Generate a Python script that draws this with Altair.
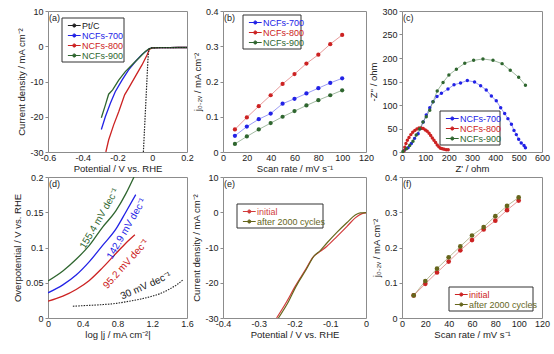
import altair as alt
import pandas as pd

# ---------------- data ----------------
# (a) LSV polarisation curves
a_x_ptc = [-0.051, -0.049, -0.047, -0.045, -0.043, -0.041, -0.039, -0.037, -0.035, -0.033,
           -0.031, -0.029, -0.027, -0.025, -0.022, -0.018, -0.01, 0.0, 0.05, 0.1, 0.15, 0.2]
a_y_ptc = [-30, -28, -26, -24, -22, -20, -18, -16, -14, -12,
           -10, -8, -6, -4, -1.8, -0.8, -0.5, -0.45, -0.4, -0.4, -0.35, -0.35]
a_x_700 = [-0.293, -0.270, -0.241, -0.213, -0.174, -0.136, -0.098, -0.059, -0.017, 0.0, 0.05, 0.1, 0.15, 0.2]
a_y_700 = [-23.6, -20.0, -16.2, -12.9, -9.6, -6.7, -4.4, -2.3, -0.7, -0.45, -0.4, -0.4, -0.35, -0.35]
a_x_800 = [-0.267, -0.251, -0.222, -0.193, -0.159, -0.136, -0.098, -0.059, -0.030, -0.017, 0.0, 0.05, 0.1, 0.15, 0.2]
a_y_800 = [-30.0, -26.6, -22.3, -18.6, -13.8, -11.9, -8.6, -5.3, -2.5, -0.9, -0.45, -0.4, -0.4, -0.35, -0.35]
a_x_900 = [-0.293, -0.270, -0.251, -0.228, -0.193, -0.155, -0.117, -0.078, -0.040, -0.017, 0.0, 0.05, 0.1, 0.15, 0.2]
a_y_900 = [-20.3, -16.7, -13.6, -12.4, -9.6, -7.2, -5.3, -3.4, -1.5, -0.7, -0.45, -0.4, -0.4, -0.35, -0.35]

# (b) and (f) capacitive current vs scan rate
scan = [10, 20, 30, 40, 50, 60, 70, 80, 90, 100]
b_700 = [0.046, 0.072, 0.093, 0.109, 0.137, 0.151, 0.166, 0.181, 0.196, 0.209]
b_800 = [0.064, 0.098, 0.130, 0.161, 0.193, 0.221, 0.251, 0.276, 0.306, 0.332]
b_900 = [0.023, 0.044, 0.064, 0.082, 0.100, 0.116, 0.132, 0.147, 0.161, 0.175]
f_init = [0.064, 0.097, 0.129, 0.160, 0.192, 0.221, 0.251, 0.276, 0.306, 0.333]
f_after = [0.064, 0.105, 0.140, 0.172, 0.203, 0.234, 0.258, 0.289, 0.318, 0.342]

# (c) Nyquist plots
c_x_700 = [11, 26, 40, 54, 69, 80, 91, 104, 119, 133, 150, 169, 197, 223, 251, 280, 311, 337,
           361, 383, 404, 423, 440, 454, 469, 480, 490, 500, 511, 523, 529]
c_y_700 = [4, 9, 18, 29, 39, 50, 64, 79, 94, 107, 118, 125, 134, 143, 147, 152, 149, 141,
           132, 119, 109, 94, 82, 71, 59, 46, 37, 27, 19, 14, 9]
c_x_800 = [8, 12, 17, 23, 30, 38, 46, 55, 64, 73, 82, 91, 100, 108, 116, 123, 130, 137, 144,
           151, 158, 165, 173, 181, 190, 198]
c_y_800 = [2, 10, 18, 25, 31, 37, 42, 46, 49, 51, 51, 50, 47, 44, 40, 35, 30, 25, 20,
           15, 11, 8, 7, 6, 5, 5]
c_x_900 = [4, 19, 33, 47, 61, 76, 90, 104, 119, 133, 151, 176, 201, 233, 269, 307, 347, 390,
           429, 464, 500, 529]
c_y_900 = [1, 7, 14, 23, 36, 49, 64, 75, 89, 107, 130, 148, 164, 176, 189, 195, 198, 195,
           188, 174, 159, 142]

# (d) Tafel plots
d_x_ptc = [0.286, 0.45, 0.629, 0.8, 0.933, 1.07, 1.2, 1.3, 1.39, 1.48, 1.56]
d_y_ptc = [0.0167, 0.0178, 0.019, 0.021, 0.0238, 0.027, 0.031, 0.035, 0.0405, 0.047, 0.0548]
d_x_700 = [0, 0.171, 0.324, 0.476, 0.629, 0.781, 0.895, 1.01]
d_y_700 = [0.0357, 0.047, 0.061, 0.080, 0.103, 0.126, 0.150, 0.175]
d_x_800 = [0, 0.171, 0.324, 0.476, 0.629, 0.781, 0.895, 1.0]
d_y_800 = [0.0238, 0.031, 0.0405, 0.0533, 0.0714, 0.0914, 0.106, 0.118]
d_x_900 = [0, 0.171, 0.324, 0.476, 0.629, 0.781, 0.895, 0.99]
d_y_900 = [0.0525, 0.0667, 0.0833, 0.103, 0.129, 0.152, 0.176, 0.2]
d_labels = ["155.4 mV dec⁻¹", "142.9 mV dec⁻¹", "95.2 mV dec⁻¹", "30 mV dec⁻¹"]
d_lab_x = [0.592, 0.903, 0.896, 1.125]
d_lab_y = [0.141, 0.1267, 0.0767, 0.0457]

# (e) stability LSV
e_x_init = [-0.25, -0.222, -0.1986, -0.170, -0.147, -0.128, -0.110, -0.0815, -0.053, -0.030, -0.011, 0.0]
e_y_init = [-30, -25.4, -21.1, -16.4, -12.6, -11.1, -9.7, -6.9, -4.0, -1.6, -0.4, -0.2]
e_x_after = [-0.245, -0.217, -0.196, -0.168, -0.145, -0.128, -0.110, -0.0815, -0.053, -0.030, -0.016, 0.0]
e_y_after = [-30, -25.4, -21.1, -16.4, -12.4, -10.9, -8.8, -5.7, -2.9, -0.8, -0.2, -0.1]

# ---------------- styling ----------------
BLUE = "#2222e6"
RED = "#cc2222"
GREEN = "#2f662f"
BLACK = "#222222"
OLIVE = "#66661c"
RED_E = "#d23c3c"

SYM = "M-0.4,0L2.8,0M0.8,0A0.4,0.4,0,1,0,1.6,0A0.4,0.4,0,1,0,0.8,0Z"
ROW = 10


def table(name, xs, ys):
    return pd.DataFrame({"s": name, "x": xs, "y": ys, "i": list(range(len(xs)))})


def ax(title, values):
    return alt.Axis(title=title, values=values, labelExpr="'' + datum.value", labelFlush=False,
                    labelOverlap=False, grid=False)


def sc(lo, hi):
    return alt.Scale(domain=[lo, hi], nice=False, zero=False)


def tag(label):
    return alt.Chart(pd.DataFrame({"t": [label]})).mark_text(
        align="left", baseline="top", fontSize=9, color=BLACK
    ).encode(x=alt.value(1), y=alt.value(3), text="t:N")


def series(name, xs, ys, color, x, y, mark, legend_at=None, k=0):
    if legend_at is None:
        leg = None
    else:
        lx, ly = legend_at
        leg = alt.Legend(title=None, orient="none", legendX=lx + 3, legendY=ly + 3 + k * ROW,
                         padding=0, symbolType=SYM, symbolSize=64, symbolStrokeWidth=1,
                         symbolFillColor=color, symbolStrokeColor=color, symbolOpacity=1,
                         labelColor=color, labelFontSize=9, labelOffset=8, labelLimit=300)
    return mark(alt.Chart(table(name, xs, ys))).encode(
        x=x, y=y, order="i:Q",
        color=alt.Color("s:N", scale=alt.Scale(domain=[name], range=[color]), legend=leg))


def box(lx, ly, w, h):
    return alt.Chart(pd.DataFrame({"b": [0]})).mark_rect(
        fill="white", stroke="#333333", strokeWidth=1
    ).encode(x=alt.value(lx), x2=alt.value(lx + w), y=alt.value(ly), y2=alt.value(ly + h))


def line(width=1.3, dash=None, interp="linear"):
    def f(ch):
        kw = dict(strokeWidth=width, clip=True, interpolate=interp)
        if dash:
            kw["strokeDash"] = dash
        return ch.mark_line(**kw)
    return f


def linept(size):
    def f(ch):
        return ch.mark_line(strokeWidth=1, strokeOpacity=0.45,
                            point=alt.OverlayMarkDef(filled=True, size=size, opacity=1))
    return f


# ---------------- panel (a) ----------------
xa = alt.X("x:Q", scale=sc(-0.6, 0.2), axis=ax("Potential / V vs. RHE", [-0.6, -0.4, -0.2, 0, 0.2]))
ya = alt.Y("y:Q", scale=sc(-30, 10), axis=ax("Current density / mA cm⁻²", [-30, -20, -10, 0, 10]))
LA = (14, 7)
pa = alt.layer(
    series("NCFs-700", a_x_700, a_y_700, BLUE, xa, ya, line(), LA, 1),
    series("NCFs-800", a_x_800, a_y_800, RED, xa, ya, line(), LA, 2),
    series("NCFs-900", a_x_900, a_y_900, GREEN, xa, ya, line(), LA, 3),
    series("Pt/C", a_x_ptc, a_y_ptc, BLACK, xa, ya, line(1.2, [1.5, 1.2]), LA, 0),
    box(LA[0], LA[1], 62, 44),
    tag("(a)"),
).resolve_scale(color="independent").properties(width=139, height=141)

# ---------------- panel (b) ----------------
xb = alt.X("x:Q", scale=sc(0, 120), axis=ax("Scan rate / mV s⁻¹", [0, 20, 40, 60, 80, 100, 120]))
yb = alt.Y("y:Q", scale=sc(0, 0.4), axis=ax("j₀.₂ᵥ / mA cm⁻²", [0, 0.1, 0.2, 0.3, 0.4]))
LB = (20, 4)
pb = alt.layer(
    series("NCFs-700", scan, b_700, BLUE, xb, yb, linept(18), LB, 0),
    series("NCFs-800", scan, b_800, RED, xb, yb, linept(18), LB, 1),
    series("NCFs-900", scan, b_900, GREEN, xb, yb, linept(18), LB, 2),
    box(LB[0], LB[1], 58, 34),
    tag("(b)"),
).resolve_scale(color="independent").properties(width=143, height=141)

# ---------------- panel (c) ----------------
xc = alt.X("x:Q", scale=sc(0, 600), axis=ax("Z' / ohm", [0, 100, 200, 300, 400, 500, 600]))
yc = alt.Y("y:Q", scale=sc(0, 300), axis=ax("-Z'' / ohm", [0, 50, 100, 150, 200, 250, 300]))
LC = (38, 100)
pc = alt.layer(
    box(LC[0], LC[1], 60, 34),
    series("NCFs-700", c_x_700, c_y_700, BLUE, xc, yc, linept(12), LC, 0),
    series("NCFs-800", c_x_800, c_y_800, RED, xc, yc, linept(12), LC, 1),
    series("NCFs-900", c_x_900, c_y_900, GREEN, xc, yc, linept(12), LC, 2),
    tag("(c)"),
).resolve_scale(color="independent").properties(width=140, height=141)

# ---------------- panel (d) ----------------
xd = alt.X("x:Q", scale=sc(0, 1.6), axis=ax("log |j / mA cm⁻²|", [0, 0.4, 0.8, 1.2, 1.6]))
yd = alt.Y("y:Q", scale=sc(0, 0.2), axis=ax("Overpotential / V vs. RHE", [0, 0.05, 0.1, 0.15, 0.2]))
ann_d = pd.DataFrame({"t": d_labels, "x": d_lab_x, "y": d_lab_y})
ann_angles = [300, 300, 312, 336]
ann_cols = [GREEN, BLUE, RED, BLACK]
ann_layers = [
    alt.Chart(ann_d.iloc[[k]]).mark_text(angle=ann_angles[k], fontSize=10, color=ann_cols[k],
                                         align="center", baseline="middle").encode(
        x=xd, y=yd, text="t:N")
    for k in range(4)
]
pdd = alt.layer(
    series("NCFs-700", d_x_700, d_y_700, BLUE, xd, yd, line(1.3, None, "monotone")),
    series("NCFs-800", d_x_800, d_y_800, RED, xd, yd, line(1.3, None, "monotone")),
    series("NCFs-900", d_x_900, d_y_900, GREEN, xd, yd, line(1.3, None, "monotone")),
    series("Pt/C", d_x_ptc, d_y_ptc, BLACK, xd, yd, line(1.1, [1.5, 1.2], "monotone")),
    *ann_layers,
    tag("(d)"),
).resolve_scale(color="independent").properties(width=139, height=141)

# ---------------- panel (e) ----------------
xe = alt.X("x:Q", scale=sc(-0.4, 0), axis=ax("Potential / V vs. RHE", [-0.4, -0.3, -0.2, -0.1, 0]))
ye = alt.Y("y:Q", scale=sc(-30, 10), axis=ax("Current density / mA cm⁻²", [-30, -20, -10, 0, 10]))
LE = (14, 27)
pe = alt.layer(
    series("initial", e_x_init, e_y_init, RED_E, xe, ye, line(1.2, None, "monotone"), LE, 0),
    series("after 2000 cycles", e_x_after, e_y_after, OLIVE, xe, ye, line(1.2, None, "monotone"), LE, 1),
    box(LE[0], LE[1], 86, 24),
    tag("(e)"),
).resolve_scale(color="independent").properties(width=143, height=141)

# ---------------- panel (f) ----------------
LF = (47, 110)
pf = alt.layer(
    series("initial", scan, f_init, RED, xb, yb, linept(22), LF, 0),
    series("after 2000 cycles", scan, f_after, OLIVE, xb, yb, linept(22), LF, 1),
    box(LF[0], LF[1], 84, 24),
    tag("(f)"),
).resolve_scale(color="independent").properties(width=140, height=141)

chart = (
    alt.concat(pa, pb, pc, pdd, pe, pf, columns=3, spacing={"row": 25, "column": 36},
               bounds="flush")
    .resolve_scale(color="independent")
    .properties(padding={"left": 11, "top": 6, "right": 2, "bottom": 2}, background="white")
    .configure(font="Liberation Sans")
    .configure_view(stroke="#8c8c8c", strokeWidth=1)
    .configure_axis(domain=False, grid=False, tickColor="#8c8c8c",
                    labelFontSize=9, titleFontSize=9.5, labelColor="#222222",
                    titleColor="#222222", titleFontWeight="normal")
    .configure_axisX(ticks=False, labelPadding=1, titlePadding=1)
    .configure_axisY(tickSize=3, labelPadding=2, titlePadding=3)
)

chart.save("out.html", embed_options={"renderer": "svg", "actions": False})
